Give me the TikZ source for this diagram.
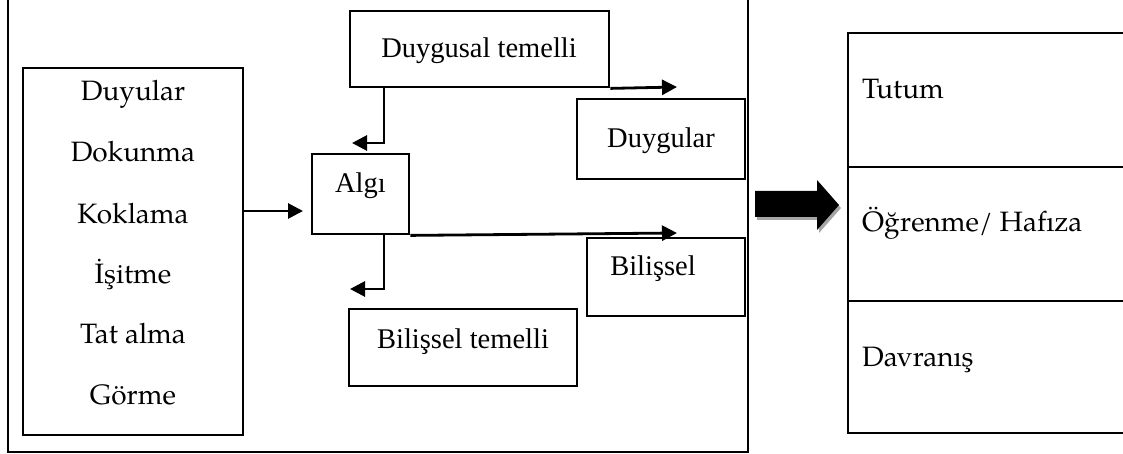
\documentclass[tikz,border=0pt]{standalone}
\usepackage{fontspec}
\setmainfont{Liberation Serif}
\newfontfamily\pal{TeX Gyre Pagella}
\usetikzlibrary{arrows.meta}
\begin{document}
\begin{tikzpicture}[x=1pt,y=-1pt,
  box/.style={draw, line width=2.8pt, rectangle, inner sep=0pt},
  tm/.style={font=\fontsize{28.5}{34}\selectfont, anchor=base, inner sep=0pt},
  pl/.style={font=\pal\fontsize{28}{34}\selectfont, anchor=base, inner sep=0pt},
  plw/.style={font=\pal\fontsize{28}{34}\selectfont, anchor=base west, inner sep=0pt},
  arr/.style={line width=2.8pt, -{Triangle[length=15pt,width=15pt]}}]
\useasboundingbox (0,0) rectangle (1123,454);
% outer frame
\node[box, minimum width=740pt, minimum height=462pt] (outer) at (378,221) {};
% left box
\node[box, minimum width=220pt, minimum height=367pt] (L) at (133,251.5) {};
\node[pl] (t1) at (133,101) {Duyular};
\node[pl] (t2) at (133,162) {Dokunma};
\node[pl] (t3) at (133,223) {Koklama};
\node[pl] (t4) at (133,283) {İşitme};
\node[pl] (t5) at (133,343) {Tat alma};
\node[pl] (t6) at (133,404) {Görme};
% middle boxes
\node[box, minimum width=259pt, minimum height=76pt] (DT) at (479.5,49) {};
\node[tm] (tDT) at (479,58) {Duygusal temelli};
\node[box, minimum width=168pt, minimum height=80pt] (DU) at (661,139) {};
\node[tm] (tDU) at (661,148) {Duygular};
\node[box, minimum width=97pt, minimum height=80pt] (AL) at (360.5,194) {};
\node[tm] (tAL) at (360.5,193) {Algı};
\node[box, minimum width=158pt, minimum height=78pt] (BI) at (666,277) {};
\node[tm] (tBI) at (653,275) {Bilişsel};
\node[box, minimum width=228pt, minimum height=77pt] (BT) at (463,347.5) {};
\node[tm] (tBT) at (463,348) {Bilişsel temelli};
% connectors
\coordinate (a1) at (303,211);
\coordinate (a2) at (677,87);
\coordinate (a3) at (352,143);
\coordinate (a4) at (677,233);
\coordinate (a5) at (350,289);
\draw[arr] (L.east |- a1) -- (a1);
\draw[arr] (DT.south east) -- (a2);
\draw[arr] (DT.south -| 384,0) |- (a3);
\draw[arr] (AL.south east) -- (a4);
\draw[arr] (AL.south -| 384,0) |- (a5);
% block arrow
\fill[gray!70] (757,194) -- (819,194) -- (819,183) -- (841,208) -- (819,233) -- (819,220) -- (757,220) -- cycle;
\fill[black] (755,191) -- (817,191) -- (817,180) -- (839,205) -- (817,230) -- (817,217) -- (755,217) -- cycle;
% right panel
\node[box, minimum width=290pt, minimum height=134pt] (R1) at (993,100) {};
\node[box, minimum width=290pt, minimum height=134pt] (R2) at (993,234) {};
\node[box, minimum width=290pt, minimum height=132pt] (R3) at (993,367) {};
\node[plw] (r1) at (862,99) {Tutum};
\node[plw] (r2) at (862,232) {Öğrenme/ Hafıza};
\node[plw] (r3) at (862,366) {Davranış};
\end{tikzpicture}
\end{document}
